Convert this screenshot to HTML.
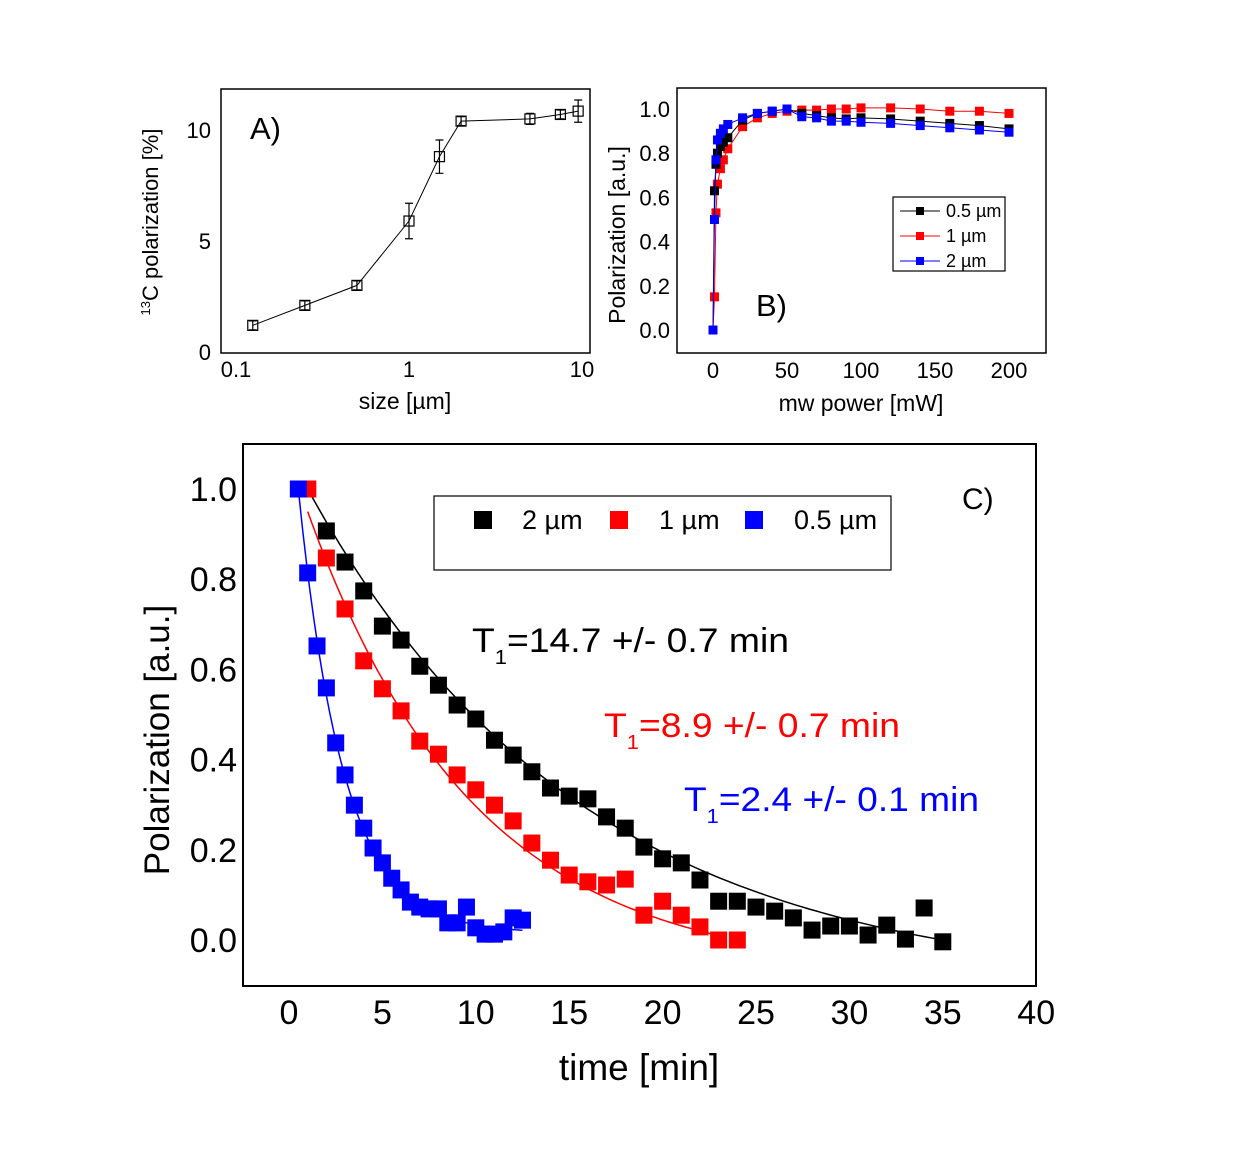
<!DOCTYPE html>
<html><head><meta charset="utf-8"><style>
body{margin:0;background:#fff}
svg{display:block;font-family:"Liberation Sans",sans-serif}
</style></head><body>
<svg id="s" width="1239" height="1156" viewBox="0 0 1239 1156">
<rect width="1239" height="1156" fill="#fff"/>
<g id="pa">
<rect x="221" y="89" width="369" height="264" fill="none" stroke="#000" stroke-width="1.5"/>
<text x="250" y="139" font-size="31">A)</text>
<text x="405" y="409" font-size="23" text-anchor="middle">size [µm]</text>
<text transform="translate(158,222) rotate(-90)" font-size="22" text-anchor="middle"><tspan font-size="13" dy="-8">13</tspan><tspan dy="8">C polarization [%]</tspan></text>
</g>
<g id="pb">
<rect x="677" y="88" width="369" height="265" fill="none" stroke="#000" stroke-width="1.5"/>
<text x="756" y="316" font-size="31">B)</text>
<text x="861" y="411" font-size="23" text-anchor="middle">mw power [mW]</text>
<text transform="translate(625,235) rotate(-90)" font-size="23" text-anchor="middle">Polarization [a.u.]</text>
<rect x="893" y="197" width="112" height="74" fill="#fff" stroke="#000" stroke-width="1.2"/>
</g>
<g id="pc">
<rect x="243" y="444" width="793" height="542" fill="none" stroke="#000" stroke-width="2"/>
<text x="962" y="509" font-size="30">C)</text>
<text x="639" y="1080" font-size="37" text-anchor="middle">time [min]</text>
<text transform="translate(169,740) rotate(-90)" font-size="35" text-anchor="middle">Polarization [a.u.]</text>
<rect x="434" y="496" width="457" height="74" fill="#fff" stroke="#000" stroke-width="1.2"/>
<rect x="474" y="511" width="18" height="18" fill="#000"/>
<text x="522" y="529" font-size="27">2 µm</text>
<rect x="610" y="511" width="18" height="18" fill="#f00"/>
<text x="659" y="529" font-size="27">1 µm</text>
<rect x="745" y="511" width="18" height="18" fill="#00f"/>
<text x="794" y="529" font-size="27">0.5 µm</text>
<text x="472" y="652" font-size="34" fill="#000" textLength="317" lengthAdjust="spacingAndGlyphs">T<tspan font-size="20" dy="12">1</tspan><tspan dy="-12">=14.7 +/- 0.7 min</tspan></text>
<text x="604" y="737" font-size="34" fill="#f00" textLength="296" lengthAdjust="spacingAndGlyphs">T<tspan font-size="20" dy="12">1</tspan><tspan dy="-12">=8.9 +/- 0.7 min</tspan></text>
<text x="684" y="811" font-size="34" fill="#00f" textLength="295" lengthAdjust="spacingAndGlyphs">T<tspan font-size="20" dy="12">1</tspan><tspan dy="-12">=2.4 +/- 0.1 min</tspan></text>
</g>
</svg>
<script>
// Panel A data
const aSizes=[0.125,0.25,0.5,1,1.5,2,5,7.5,9.5];
const aPol=[1.2,2.1,3.0,5.9,8.8,10.4,10.5,10.7,10.85];
const aErr=[0.2,0.2,0.2,0.8,0.75,0.2,0.25,0.2,0.5];
const aXTicks=[0.1,1,10];
const aXTickLabels=["0.1","1","10"];
const aYTicks=[0,5,10];
// Panel B data
const bPower=[0,1,2,3,5,7,10,20,30,40,50,60,70,80,90,100,120,140,160,180,200];
const bBlack=[0,0.63,0.75,0.8,0.83,0.85,0.87,0.95,0.98,0.99,1.0,0.98,0.97,0.96,0.955,0.96,0.955,0.945,0.935,0.925,0.91];
const bRed=[0,0.15,0.53,0.66,0.73,0.77,0.82,0.92,0.96,0.98,0.99,0.995,0.995,1.0,1.0,1.005,1.005,1.0,0.99,0.99,0.98];
const bBlue=[0,0.5,0.77,0.86,0.89,0.91,0.93,0.96,0.98,0.99,1.0,0.965,0.96,0.945,0.945,0.94,0.935,0.925,0.915,0.905,0.895];
const bXTicks=[0,50,100,150,200];
const bYTicks=[0,0.2,0.4,0.6,0.8,1.0];
const bLegend=["0.5 µm","1 µm","2 µm"];
// Panel C data
const cTimeBlack=[1,2,3,4,5,6,7,8,9,10,11,12,13,14,15,16,17,18,19,20,21,22,23,24,25,26,27,28,29,30,31,32,33,34,35];
const cBlack=[1.0,0.907,0.838,0.774,0.696,0.665,0.607,0.565,0.521,0.49,0.443,0.41,0.373,0.337,0.319,0.313,0.273,0.248,0.206,0.18,0.171,0.133,0.086,0.086,0.073,0.064,0.049,0.022,0.031,0.031,0.011,0.033,0.002,0.071,-0.004];
const cTimeRed=[1,2,3,4,5,6,7,8,9,10,11,12,13,14,15,16,17,18,19,20,21,22,23,24];
const cRed=[1.0,0.847,0.734,0.619,0.557,0.508,0.441,0.412,0.366,0.333,0.299,0.264,0.215,0.177,0.144,0.129,0.122,0.135,0.055,0.086,0.055,0.029,0,0];
const cTimeBlue=[0.5,1,1.5,2,2.5,3,3.5,4,4.5,5,5.5,6,6.5,7,7.5,8,8.5,9,9.5,10,10.5,11,11.5,12,12.5];
const cBlue=[1.0,0.814,0.652,0.559,0.437,0.366,0.299,0.248,0.204,0.171,0.137,0.111,0.084,0.073,0.069,0.069,0.038,0.038,0.073,0.027,0.013,0.013,0.018,0.049,0.044];
// fit parameters: [amplitude, T1, offset, tStart, tEnd]
const fitBlack=[1.11,14.7,-0.11,1,35];
const fitRed=[1.027,8.9,-0.077,1,23];
const fitBlue=[0.985,2.4,0.015,0.5,12.5];
const cXTicks=[0,5,10,15,20,25,30,35,40];
const cYTicks=[0,0.2,0.4,0.6,0.8,1.0];

const NS="http://www.w3.org/2000/svg";
function mk(parent,tag,attrs){const e=document.createElementNS(NS,tag);for(const k in attrs)e.setAttribute(k,attrs[k]);parent.appendChild(e);return e;}
const pa=document.getElementById('pa'),pb=document.getElementById('pb'),pc=document.getElementById('pc');

const axA=v=>236+173*Math.log10(v/0.1);
const ayA=v=>352-22.2*v;
aXTicks.forEach((t,i)=>{const e=mk(pa,'text',{x:axA(t),y:377,'font-size':22,'text-anchor':'middle'});e.textContent=aXTickLabels[i];

});
aYTicks.forEach(t=>{const e=mk(pa,'text',{x:211,y:ayA(t)+8,'font-size':22,'text-anchor':'end'});e.textContent=String(t);

});
{const l=mk(pa,'polyline',{points:aSizes.map((s,i)=>axA(s)+','+ayA(aPol[i])).join(' '),fill:'none',stroke:'#000','stroke-width':1});

}
aSizes.forEach((s,i)=>{const x=axA(s),y=ayA(aPol[i]),y1=ayA(aPol[i]+aErr[i]),y2=ayA(aPol[i]-aErr[i]);
const g=mk(pa,'g',{});


mk(g,'path',{d:`M${x},${y1}V${y2}M${x-4},${y1}H${x+4}M${x-4},${y2}H${x+4}`,stroke:'#000','stroke-width':1.2});
mk(g,'rect',{x:x-5,y:y-5,width:10,height:10,fill:'none',stroke:'#000','stroke-width':1.2});});

const axB=v=>713+1.48*v;
const ayB=v=>330-221*v;
bXTicks.forEach(t=>{const e=mk(pb,'text',{x:axB(t),y:378,'font-size':22,'text-anchor':'middle'});e.textContent=String(t);

});
bYTicks.forEach(t=>{const e=mk(pb,'text',{x:670,y:ayB(t)+8,'font-size':22,'text-anchor':'end'});e.textContent=t.toFixed(1);

});
[[bRed,'#f00','red'],[bBlack,'#000','black'],[bBlue,'#00f','blue']].forEach(([d,c,n])=>{
const g=mk(pb,'g',{});


mk(g,'polyline',{points:bPower.map((p,i)=>axB(p)+','+ayB(d[i])).join(' '),fill:'none',stroke:c,'stroke-width':1});
bPower.forEach((p,i)=>mk(g,'rect',{x:axB(p)-4.5,y:ayB(d[i])-4.5,width:9,height:9,fill:c}));});
[['#000'],['#f00'],['#00f']].forEach(([c],i)=>{const y=211+25*i;
const g=mk(pb,'g',{});


mk(g,'line',{x1:900,y1:y,x2:940,y2:y,stroke:c,'stroke-width':1});
mk(g,'rect',{x:916,y:y-4,width:8,height:8,fill:c});
const t=mk(g,'text',{x:946,y:y+6,'font-size':18});t.textContent=bLegend[i];});

const axC=v=>289+18.68*v;
const ayC=v=>940-451*v;
cXTicks.forEach(t=>{const e=mk(pc,'text',{x:axC(t),y:1024,'font-size':34,'text-anchor':'middle'});e.textContent=String(t);

});
cYTicks.forEach(t=>{const e=mk(pc,'text',{x:237,y:ayC(t)+12,'font-size':34,'text-anchor':'end'});e.textContent=t.toFixed(1);

});
function fitPath(f){const [a,T,c,t0,t1]=f;let d='';for(let k=0;k<=100;k++){const t=t0+(t1-t0)*k/100;d+=(k?'L':'M')+axC(t).toFixed(1)+','+ayC(a*Math.exp(-(t-t0)/T)+c).toFixed(1);}return d;}
[[cTimeBlack,cBlack,fitBlack,'#000','2um'],[cTimeRed,cRed,fitRed,'#f00','1um'],[cTimeBlue,cBlue,fitBlue,'#00f','05um']].forEach(([tt,d,f,c,n])=>{
const g=mk(pc,'g',{});


tt.forEach((t,i)=>mk(g,'rect',{x:axC(t)-8.5,y:ayC(d[i])-8.5,width:17,height:17,fill:c}));
const p=mk(g,'path',{d:fitPath(f),fill:'none',stroke:c,'stroke-width':1.5});

});
</script>
</body></html>
